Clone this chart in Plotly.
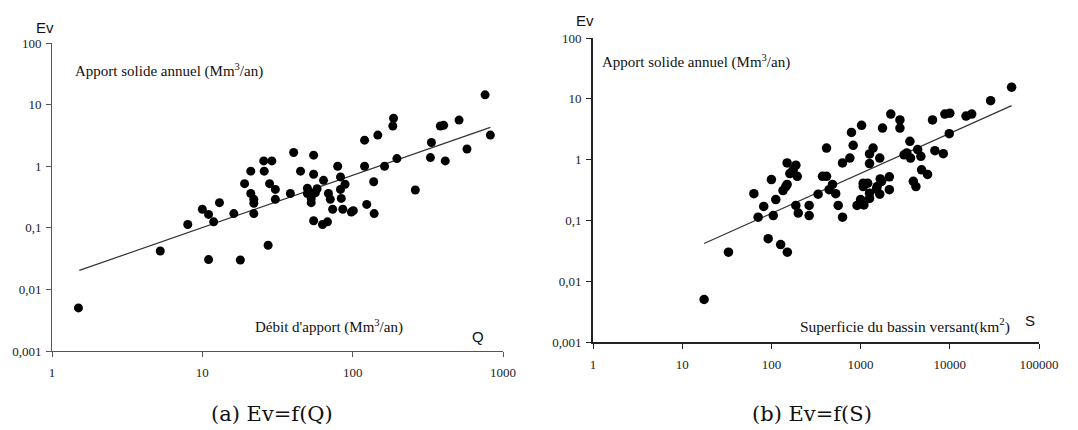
import numpy as np
import plotly.graph_objects as go

# ---- Data: (a) Ev = f(Q)
q_vals = [760, 824, 187, 185, 147, 120, 510, 383, 403, 334, 329, 413, 576, 197, 163, 120, 138, 261,
          79.5, 83, 89, 83, 64, 55, 55, 40.5, 45, 58, 50, 53.7, 38.5, 69, 25.6, 29, 21, 25.8, 19.1, 28,
          21, 30.6, 30.6, 22, 71,
          1.5, 5.25, 8.0, 10, 11, 11.9, 13, 11, 17.9, 16.2, 22, 22, 27.4, 50, 56.5, 53, 53, 55, 63, 68,
          73.6, 84, 86, 98, 101, 124, 139]
ev_q = [14.4, 3.2, 6.0, 4.5, 3.2, 2.65, 5.6, 4.5, 4.6, 2.43, 1.38, 1.22, 1.9, 1.33, 1.0, 1.0, 0.56, 0.41,
        1.0, 0.67, 0.51, 0.42, 0.59, 1.51, 0.74, 1.67, 0.83, 0.43, 0.44, 0.36, 0.36, 0.36, 1.22, 1.22, 0.83,
        0.83, 0.52, 0.52, 0.36, 0.42, 0.29, 0.29, 0.29,
        0.005, 0.042, 0.113, 0.2, 0.165, 0.125, 0.256, 0.0305, 0.03, 0.17, 0.25, 0.17, 0.052, 0.36, 0.37,
        0.30, 0.256, 0.13, 0.113, 0.125, 0.2, 0.30, 0.2, 0.18, 0.19, 0.24, 0.17]
fit_q_range = [1.52, 824]
fit_q_a, fit_q_b = 0.01426, 0.849

# ---- Data: (b) Ev = f(S)
s_vals = [49300, 28700, 17600, 15200, 8800, 10000, 9860, 6400, 6800, 8450, 5630, 4830, 3900, 4170, 3570,
          3300, 3070, 4360, 4740, 3630, 2760, 2760, 2180, 1760, 1640, 1380, 1260, 1260, 1025, 790, 826,
          758, 627, 415, 374, 415, 484, 444, 526, 334, 1070, 1070, 1200, 1260, 1530, 1720, 1660, 2100,
          2100, 1000, 1260, 150, 188, 175, 161, 145, 135, 150, 195, 100, 63.6, 112,
          17.6, 33, 92, 127, 151, 71, 105, 82, 188, 200, 265, 265, 561, 627, 912, 980, 1090, 1510, 1640]
ev_s = [15.5, 9.3, 5.6, 5.2, 5.6, 5.8, 2.67, 4.5, 1.4, 1.25, 0.57, 0.68, 0.44, 0.36, 2.0,
        1.29, 1.2, 1.46, 1.13, 1.06, 3.3, 4.5, 5.6, 3.3, 1.06, 1.55, 1.24, 0.86, 3.67, 2.8, 1.72,
        1.06, 0.88, 1.55, 0.53, 0.53, 0.39, 0.32, 0.275, 0.27, 0.41, 0.36, 0.41, 0.28, 0.36, 0.44, 0.48, 0.52,
        0.32, 0.22, 0.23, 0.88, 0.81, 0.67, 0.59, 0.36, 0.31, 0.39, 0.53, 0.47, 0.275, 0.22,
        0.005, 0.030, 0.05, 0.04, 0.03, 0.113, 0.12, 0.17, 0.176, 0.132, 0.176, 0.12, 0.176, 0.113, 0.176,
        0.19, 0.18, 0.33, 0.27]
fit_s_range = [17.6, 49300]
fit_s_a, fit_s_b = 0.0063, 0.658

y_tickvals = [0.001, 0.01, 0.1, 1, 10, 100]
y_ticktext = ["0,001", "0,01", "0,1", "1", "10", "100"]
xq_tickvals = [1, 10, 100, 1000]
xs_tickvals = [1, 10, 100, 1000, 10000, 100000]

W, H = 1078, 430
OFF = 8  # page body margin offset
SERIF = "Liberation Serif"
CAPTION = "DejaVu Serif"
SANS = "Liberation Sans"

fig = go.Figure()

fq = np.array(fit_q_range)
fig.add_trace(go.Scatter(x=fq, y=fit_q_a * fq ** fit_q_b, mode="lines",
                         line=dict(color="#333333", width=1.2), xaxis="x", yaxis="y", showlegend=False))
fig.add_trace(go.Scatter(x=q_vals, y=ev_q, mode="markers",
                         marker=dict(color="black", size=9), xaxis="x", yaxis="y", showlegend=False))

fs = np.array(fit_s_range)
fig.add_trace(go.Scatter(x=fs, y=fit_s_a * fs ** fit_s_b, mode="lines",
                         line=dict(color="#333333", width=1.2), xaxis="x2", yaxis="y2", showlegend=False))
fig.add_trace(go.Scatter(x=s_vals, y=ev_s, mode="markers",
                         marker=dict(color="black", size=9.5), xaxis="x2", yaxis="y2", showlegend=False))


def px(x):
    return (x - OFF) / W


def py(y):
    return 1 - (y - OFF) / H


common_axis = dict(type="log", showgrid=False, zeroline=False, showline=True, ticks="outside",
                   ticklen=5, automargin=False, tickfont=dict(family=SERIF, size=13, color="#222"))

fig.update_layout(
    width=W, height=H, margin=dict(l=0, r=0, t=0, b=0, pad=0, autoexpand=False),
    paper_bgcolor="white", plot_bgcolor="white",
    xaxis=dict(**common_axis, domain=[px(52), px(503)], range=[0, 3], anchor="y",
               tickvals=xq_tickvals, ticktext=[str(v) for v in xq_tickvals],
               linecolor="#555", linewidth=1, tickcolor="#555", ticklabelstandoff=4),
    yaxis=dict(**common_axis, domain=[py(351), py(43)], range=[-3, 2], anchor="x",
               tickvals=y_tickvals, ticktext=y_ticktext,
               linecolor="#555", linewidth=1, tickcolor="#555", ticklabelstandoff=2),
    xaxis2=dict(**common_axis, domain=[px(593), px(1039)], range=[0, 5], anchor="y2",
                tickvals=xs_tickvals, ticktext=[str(v) for v in xs_tickvals],
                linecolor="#222", linewidth=2, tickcolor="#222", ticklabelstandoff=4),
    yaxis2=dict(**common_axis, domain=[py(342), py(38)], range=[-3, 2], anchor="x2",
                tickvals=y_tickvals, ticktext=y_ticktext,
                linecolor="#222", linewidth=2, tickcolor="#222", ticklabelstandoff=2),
)

annots = [
    dict(text="Ev", x=45, y=27, font=dict(family=SANS, size=15)),
    dict(text="Apport solide annuel (Mm<sup>3</sup>/an)", x=73, y=70, xanchor="left",
         font=dict(family=SERIF, size=15)),
    dict(text="Débit d'apport (Mm<sup>3</sup>/an)", x=253, y=326, xanchor="left",
         font=dict(family=SERIF, size=15)),
    dict(text="Q", x=478, y=336, font=dict(family=SANS, size=15)),
    dict(text="Ev", x=585, y=20, font=dict(family=SANS, size=15)),
    dict(text="Apport solide annuel (Mm<sup>3</sup>/an)", x=600, y=61, xanchor="left",
         font=dict(family=SERIF, size=15)),
    dict(text="Superficie du bassin versant(km<sup>2</sup>)", x=798, y=325, xanchor="left",
         font=dict(family=SERIF, size=15.5)),
    dict(text="S", x=1030, y=320, font=dict(family=SANS, size=15)),
    dict(text="(a) Ev=f(Q)", x=272, y=414, font=dict(family=CAPTION, size=21)),
    dict(text="(b) Ev=f(S)", x=812, y=414, font=dict(family=CAPTION, size=21)),
]
for a in annots:
    fig.add_annotation(text=a["text"], x=px(a["x"]), y=py(a["y"]), xref="paper", yref="paper",
                       xanchor=a.get("xanchor", "center"), yanchor="middle", showarrow=False,
                       font=dict(color="#111", **a["font"]))

fig.write_html("out.html")
